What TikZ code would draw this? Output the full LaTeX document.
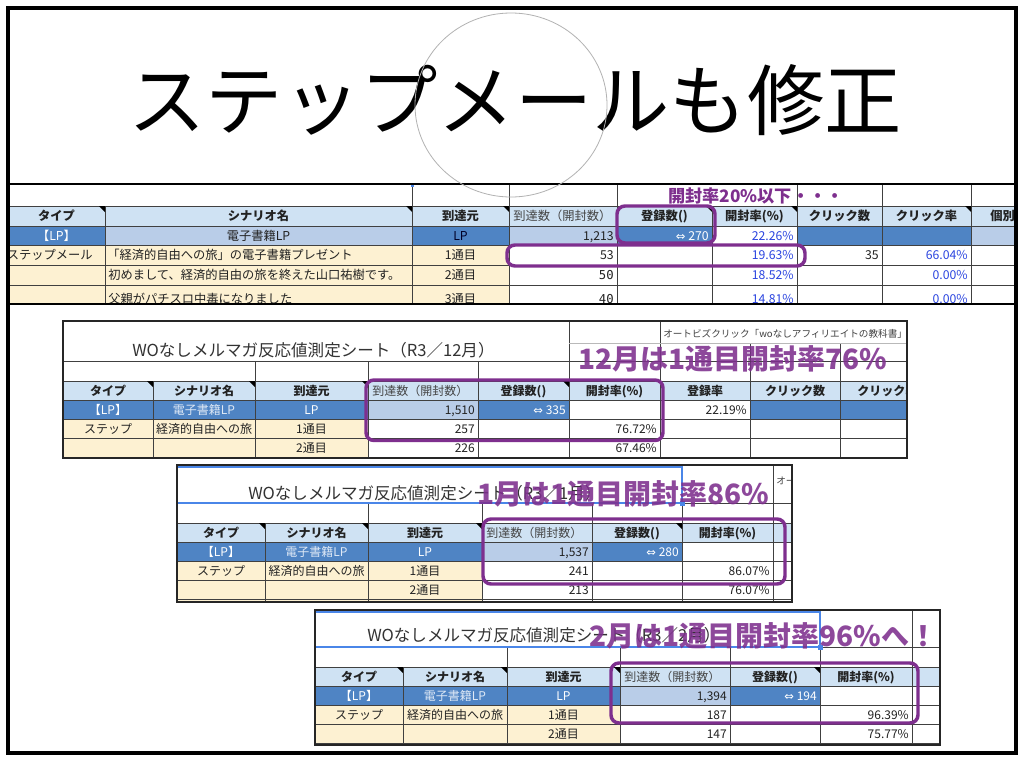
\documentclass[tikz,border=0pt]{standalone}
\usepackage{fontspec}
\setmainfont{Noto Sans CJK JP}
\newfontfamily\dejavu{DejaVu Sans}
\newfontfamily\monof{DejaVu Sans Mono}
\newcommand\fa{\fontsize{9.2}{11}\selectfont}
\newcommand\fb{\fontsize{9}{10}\selectfont}
\newcommand\arr{{\dejavu\fontsize{8.6}{9}\selectfont ⇔}}
\definecolor{dkblue}{HTML}{4F84C4}
\definecolor{ltblue}{HTML}{CFE2F3}
\definecolor{mdblue}{HTML}{B9CDE8}
\definecolor{beige}{HTML}{FDF1D2}
\definecolor{purp}{HTML}{7E2F8E}
\definecolor{pct}{HTML}{2B45E0}
\definecolor{gridc}{HTML}{404040}
\definecolor{selb}{HTML}{4A86E8}
\definecolor{txtc}{HTML}{222222}
\definecolor{hdgray}{HTML}{444444}
\definecolor{lpt}{HTML}{DFE9F6}
\tikzset{
 tt/.style={inner sep=0pt,text height=0.8em,text depth=0.1em},
 ta/.style={tt,font=\fa,text=txtc},
 tah/.style={tt,font=\fa\bfseries,text=txtc},
 tb/.style={tt,font=\fb,text=txtc},
 tbh/.style={tt,font=\fb\bfseries,text=txtc},
 gridl/.style={draw=gridc,line width=0.65pt},
 pbox/.style={draw=purp,line width=2.6pt,rounded corners=6pt},
 ptext/.style={inner sep=0pt,font=\fontsize{21}{24}\selectfont\bfseries,text=purp,text opacity=0.88,anchor=west},
 frm/.style={draw=black!85,line width=1.5pt},
 sel/.style={draw=selb,line width=1pt},
 ttl/.style={inner sep=0pt,anchor=west,font=\fontsize{12.4}{14}\selectfont,text=black!80},
}
\newcommand\tri[2]{\fill[black] (#1,#2) -- (#1-6,#2) -- (#1,#2+6) -- cycle;}
\newcommand\smalltab[8]{%
 \fill[ltblue] (#1,#8) rectangle (#7,#8+19);
 \fill[dkblue] (#1,#8+19) rectangle (#4,#8+38);
 \fill[mdblue] (#4,#8+19) rectangle (#5,#8+38);
 \fill[dkblue] (#5,#8+19) rectangle (#6,#8+38);
 \fill[beige] (#1,#8+38) rectangle (#4,#8+80);
 \foreach \yy in {0,19,38,57,76} {\draw[gridl] (#1,#8+\yy) -- (#7,#8+\yy);}
 \foreach \xx in {#2,#3,#4,#5,#6,#7} {\draw[gridl] (\xx,#8) -- (\xx,#8+80);}
 \foreach \xx in {#3,#4,#5,#6,#7} {\draw[gridl] (\xx,#8-20) -- (\xx,#8);}
 \draw[gridl] (#1,#8-20) -- (#7,#8-20);
 \tri{#2}{#8}\tri{#3}{#8}\tri{#4}{#8}\tri{#6}{#8}
 \node[tbh] at ({(#1+#2)/2},#8+9.5) {タイプ};
 \node[tbh] at ({(#2+#3)/2},#8+9.5) {シナリオ名};
 \node[tbh] at ({(#3+#4)/2},#8+9.5) {到達元};
 \node[tb,anchor=west,text=hdgray] at (#4+4,#8+9.5) {到達数（開封数）};
 \node[tbh] at ({(#5+#6)/2},#8+9.5) {登録数()};
 \node[tbh] at ({(#6+#7)/2},#8+9.5) {開封率(\%)};
 \node[tb,text=white] at ({(#1+#2)/2},#8+28.5) {【LP】};
 \node[tb,text=lpt] at ({(#2+#3)/2},#8+28.5) {電子書籍LP};
 \node[tb,text=white] at ({(#3+#4)/2},#8+28.5) {LP};
 \node[tb,anchor=east] at (#5-3,#8+28.5) {\nA};
 \node[tb,anchor=east,text=white] at (#6-3,#8+28.5) {\arr\ \nB};
 \node[tb] at ({(#1+#2)/2},#8+47.5) {ステップ};
 \node[tb] at ({(#2+#3)/2},#8+47.5) {経済的自由への旅};
 \node[tb] at ({(#3+#4)/2},#8+47.5) {1通目};
 \node[tb,anchor=east] at (#5-3,#8+47.5) {\nC};
 \node[tb,anchor=east] at (#7-3,#8+47.5) {\nD};
 \node[tb] at ({(#3+#4)/2},#8+66.5) {2通目};
 \node[tb,anchor=east] at (#5-3,#8+66.5) {\nE};
 \node[tb,anchor=east] at (#7-3,#8+66.5) {\nF};
}
\begin{document}
\begin{tikzpicture}[x=0.75pt,y=-0.75pt]
\useasboundingbox (0,0) rectangle (1024,761);
\fill[white] (0,0) rectangle (1024,761);

% ---------- big title ----------
\node[inner sep=0pt,font=\fontsize{58}{60}\selectfont] (title) at (515,100) {ステップメールも修正};

% ---------- top table ----------
\begin{scope}
\clip (8,184) rectangle (1015,303);
\fill[ltblue] (8,206) rectangle (1015,226);
\fill[dkblue] (8,226) rectangle (105,245);
\fill[mdblue] (105,226) rectangle (412,245);
\fill[dkblue] (412,226) rectangle (509,245);
\fill[mdblue] (509,226) rectangle (617,245);
\fill[dkblue] (617,226) rectangle (712,245);
\fill[dkblue] (797,226) rectangle (971,245);
\fill[mdblue] (971,226) rectangle (1015,245);
\fill[beige] (8,245) rectangle (509,305);
\foreach \yy in {206,226,245,265,285} {\draw[gridl] (8,\yy) -- (1015,\yy);}
\foreach \xx in {105,412,509,617,712,797,882,971} {\draw[gridl] (\xx,206) -- (\xx,304);}
\foreach \xx in {412,509,617,797,882,971} {\draw[gridl] (\xx,184) -- (\xx,206);}
\tri{105}{206}\tri{412}{206}\tri{509}{206}\tri{712}{206}\tri{797}{206}\tri{971}{206}
% header
\node[tah] at (56.5,216) {タイプ};
\node[tah] at (258.5,216) {シナリオ名};
\node[tah] at (460.5,216) {到達元};
\node[ta,anchor=west,text=hdgray] at (513,216) {到達数（開封数）};
\node[tah] at (664.5,216) {登録数()};
\node[tah] at (754.5,216) {開封率(\%)};
\node[tah] at (839.5,216) {クリック数};
\node[tah] at (926.5,216) {クリック率};
\node[tah,anchor=west] at (990,216) {個別};
% LP row
\node[ta,text=white] at (56.5,235.5) {【LP】};
\node[ta] at (258.5,235.5) {電子書籍LP};
\node[ta,text=black!85!blue] at (460.5,235.5) {LP};
\node[ta,anchor=east] at (614,235.5) {1,213};
\node[ta,anchor=east,text=white] at (709,235.5) {\arr\ 270};
\node[ta,anchor=east,text=pct] at (794,235.5) {22.26\%};
% step row 1
\node[ta,anchor=east] at (93,255) {ステップメール};
\node[ta,anchor=west] at (107,255) {「経済的自由への旅」の電子書籍プレゼント};
\node[ta] at (460.5,255) {1通目};
\node[ta,anchor=east] at (614,255) {53};
\node[ta,anchor=east,text=pct] at (794,255) {19.63\%};
\node[ta,anchor=east] at (879,255) {35};
\node[ta,anchor=east,text=pct] at (968,255) {66.04\%};
% step row 2
\node[ta,anchor=west] at (108,275) {初めまして、経済的自由の旅を終えた山口祐樹です。};
\node[ta] at (460.5,275) {2通目};
\node[ta,anchor=east,font=\monof\fontsize{9.2}{11}\selectfont] at (614,275) {50};
\node[ta,anchor=east,text=pct] at (794,275) {18.52\%};
\node[ta,anchor=east,text=pct] at (968,275) {0.00\%};
% step row 3 (cut)
\node[ta,anchor=west] at (108,299) {父親がパチスロ中毒になりました};
\node[ta] at (460.5,299) {3通目};
\node[ta,anchor=east,font=\monof\fontsize{9.2}{11}\selectfont] at (614,299) {40};
\node[ta,anchor=east,text=pct] at (794,299) {14.81\%};
\node[ta,anchor=east,text=pct] at (968,299) {0.00\%};
\end{scope}
\fill[selb] (410.5,183.5) rectangle (413.5,186.5);
\node[inner sep=0pt,anchor=west,font=\fontsize{12.9}{14}\selectfont\bfseries,text=purp] (p20) at (668,196) {開封率20\%以下・・・};
\draw[pbox] (617,206) rectangle (715,243);
\draw[pbox] (507,245) rectangle (805,266);

% ---------- December table ----------
\begin{scope}
\clip (63,321) rectangle (907,458);
\fill[ltblue] (660,381) rectangle (907,400);
\fill[dkblue] (750,400) rectangle (907,419);
\def\nA{1,510}\def\nB{335}\def\nC{257}\def\nD{76.72\%}\def\nE{226}\def\nF{67.46\%}
\smalltab{63}{153}{255}{368}{478}{569}{660}{381}
\foreach \yy in {361,381,400,419,438,457} {\draw[gridl] (660,\yy) -- (907,\yy);}
\foreach \xx in {750,840} {\draw[gridl] (\xx,343) -- (\xx,458);}
\draw[gridl] (569,321) -- (569,361);
\draw[gridl] (660,321) -- (660,361);
\draw[draw=gray!55,line width=0.5pt] (569,343) -- (907,343);
\node[tbh] at (705,390.5) {登録率};
\node[tbh] at (795,390.5) {クリック数};
\node[tbh,anchor=west] at (857,390.5) {クリック率};
\node[tb,anchor=east] at (747,409.5) {22.19\%};
\node[ttl] at (132,350) {WOなしメルマガ反応値測定シート（R3／12月）};
\node[tt,anchor=west,font=\fontsize{7.2}{8}\selectfont,text=black!75] at (663,333) {オートビズクリック「woなしアフィリエイトの教科書」};
\end{scope}
\draw[frm] (63,321) rectangle (907,458);
\node[ptext] (dec) at (578,359) {12月は1通目開封率76\%};
\draw[pbox] (366,380) rectangle (663,440.5);

% ---------- January table ----------
\begin{scope}
\clip (177,465) rectangle (792,602);
\fill[ltblue] (773,523) rectangle (792,542);
\def\nA{1,537}\def\nB{280}\def\nC{241}\def\nD{86.07\%}\def\nE{213}\def\nF{76.07\%}
\smalltab{177}{265}{368}{482}{592}{682}{773}{523}
\foreach \yy in {503,523,542,561,580,599} {\draw[gridl] (773,\yy) -- (792,\yy);}
\draw[gridl] (773,465) -- (773,503);
\node[ttl] at (248,493) {WOなしメルマガ反応値測定シート（R3／1月）};
\node[tt,anchor=west,font=\fontsize{7.2}{8}\selectfont,text=black!75] at (776,480) {オー};
\draw[sel] (177,467) -- (682,467) -- (682,503) -- (177,503);
\fill[selb] (679.5,500.5) rectangle (684.5,505.5);
\end{scope}
\draw[frm] (177,465) rectangle (792,602);
\node[ptext] (jan) at (477,494) {1月は1通目開封率86\%};
\draw[pbox] (483,519) rectangle (785,584);

% ---------- February table ----------
\begin{scope}
\clip (315,610) rectangle (940,745);
\fill[ltblue] (912,667) rectangle (940,686);
\def\nA{1,394}\def\nB{194}\def\nC{187}\def\nD{96.39\%}\def\nE{147}\def\nF{75.77\%}
\smalltab{315}{403}{507}{620}{730}{820}{912}{667}
\foreach \yy in {647,667,686,705,724,743} {\draw[gridl] (912,\yy) -- (940,\yy);}
\draw[gridl] (912,610) -- (912,647);
\node[ttl] at (367,635) {WOなしメルマガ反応値測定シート（R3／2月）};
\draw[sel] (315,612) -- (820,612) -- (820,647) -- (315,647);
\fill[selb] (817.5,644.5) rectangle (822.5,649.5);
\end{scope}
\draw[frm] (315,610) rectangle (940,745);
\node[ptext] (feb) at (589,636) {2月は1通目開封率96\%へ！};
\draw[pbox] (611,663) rectangle (918,723);

% ---------- outer frame & separators ----------
\draw[black,line width=2pt] (8,184) -- (1016,184);
\draw[black,line width=2pt] (8,304) -- (1016,304);
\draw[black,line width=2.4pt] (8,8) rectangle (1016,753);

% ---------- circle ----------
\draw[gray!60,line width=0.6pt] (511,105) ellipse [x radius=96, y radius=92];
\end{tikzpicture}
\end{document}
